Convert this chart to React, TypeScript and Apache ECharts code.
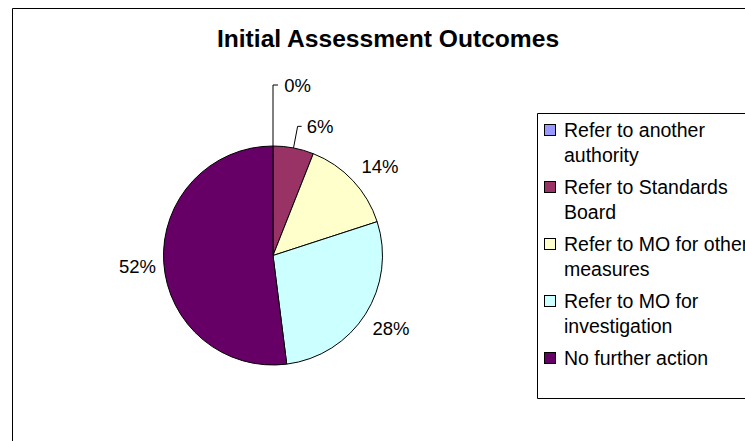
import React, { useEffect, useRef } from "react";
import * as echarts from "echarts";

const titleText = "Initial Assessment Outcomes";
const categories = [
  "Refer to another authority",
  "Refer to Standards Board",
  "Refer to MO for other measures",
  "Refer to MO for investigation",
  "No further action",
];
const legendLines = [
  ["Refer to another", "authority"],
  ["Refer to Standards", "Board"],
  ["Refer to MO for other", "measures"],
  ["Refer to MO for", "investigation"],
  ["No further action"],
];
const values = [0, 6, 14, 28, 52];
const colors = ["#9999FF", "#993366", "#FFFFCC", "#CCFFFF", "#660066"];

// per-slice label placement styles (Excel-like)
const labelStyles = [
  { showLine: true, len: 61, len2: -5, dist: -33, pad: [11, 0, 0, 0] },
  { showLine: true, len: 22, len2: 4, dist: 5, pad: [0, 0, 0, 0] },
  { showLine: false, len: 20, len2: 0, dist: -6, pad: [0, 0, 0, 0] },
  { showLine: false, len: 26, len2: 0, dist: -15, pad: [0, 0, 0, 0] },
  { showLine: false, len: 73.5, len2: 0, dist: -65.6, pad: [0, 0, 0, 0] },
];

const FONT = "'Liberation Sans', Arial, Helvetica, sans-serif";

export default function App() {
  const ref = useRef<HTMLDivElement>(null);
  useEffect(() => {
    if (!ref.current) return;
    const chart = echarts.init(ref.current, null, { renderer: "svg" });
    const rich: any = {
      t: { fontSize: 19.5, fontFamily: FONT, color: "#000", lineHeight: 25 },
      g: { width: 9, lineHeight: 25 },
      ind: { width: 19, lineHeight: 25 },
    };
    colors.forEach((c, i) => {
      rich["s" + i] = {
        width: 10,
        height: 10,
        backgroundColor: c,
        borderColor: "#000",
        borderWidth: 1,
        lineHeight: 25,
      };
    });
    chart.setOption({
      animation: false,
      title: {
        text: titleText,
        left: 383,
        top: 21,
        textAlign: "center",
        textStyle: { fontFamily: FONT, fontSize: 24.6, fontWeight: "bold", color: "#000" },
      },
      legend: {
        orient: "vertical",
        left: 537,
        top: 113,
        padding: [7, 0, 32, 3],
        itemGap: 12,
        itemWidth: 0,
        itemHeight: 10,
        icon: "none",
        borderWidth: 0,
        selectedMode: false,
        data: categories,
        formatter: (name: string) => {
          const i = categories.indexOf(name);
          return legendLines[i]
            .map((l, k) => (k === 0 ? `{s${i}|}{g|}` : `{ind|}`) + `{t|${l}}`)
            .join("\n");
        },
        textStyle: { rich, fontFamily: FONT, fontSize: 19.5, color: "#000" },
      },
      graphic: [
        {
          type: "polyline",
          silent: true,
          z: -10,
          shape: { points: [[760, 8.5], [12.5, 8.5], [12.5, 460]] },
          style: { fill: "none", stroke: "#000", lineWidth: 1 },
        },
        {
          type: "line",
          silent: true,
          z: -5,
          shape: { x1: 537.5, y1: 113.5, x2: 745, y2: 113.5 },
          style: { stroke: "#000", lineWidth: 1 },
        },
        {
          type: "line",
          silent: true,
          z: -5,
          shape: { x1: 537.5, y1: 113.5, x2: 537.5, y2: 398.5 },
          style: { stroke: "#000", lineWidth: 1 },
        },
        {
          type: "line",
          silent: true,
          z: -5,
          shape: { x1: 537.5, y1: 398.5, x2: 745, y2: 398.5 },
          style: { stroke: "#000", lineWidth: 1 },
        },
      ],
      series: [
        {
          type: "pie",
          center: [273, 255.5],
          radius: 109.5,
          startAngle: 90,
          clockwise: true,
          avoidLabelOverlap: false,
          itemStyle: { borderColor: "#000", borderWidth: 1 },
          label: {
            show: true,
            position: "outside",
            formatter: "{d}%",
            fontFamily: FONT,
            fontSize: 18.5,
            color: "#000",
          },
          labelLine: { lineStyle: { color: "#000", width: 1 } },
          emphasis: { disabled: true },
          data: categories.map((name, i) => ({
            name,
            value: values[i],
            itemStyle: { color: colors[i] },
            label: { distanceToLabelLine: labelStyles[i].dist, padding: labelStyles[i].pad },
            labelLine: {
              show: labelStyles[i].showLine,
              length: labelStyles[i].len,
              length2: labelStyles[i].len2,
              smooth: false,
            },
          })),
        },
      ],
    });
    return () => chart.dispose();
  }, []);
  return (
    <div
      ref={ref}
      style={{ position: "absolute", left: 0, top: 0, width: 745, height: 441, background: "#fff" }}
    />
  );
}
